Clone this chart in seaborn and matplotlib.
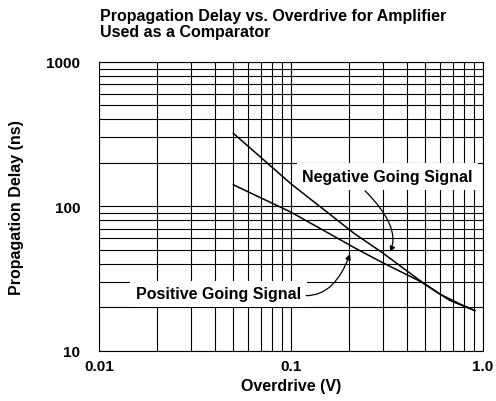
import matplotlib
matplotlib.use("Agg")
import matplotlib.pyplot as plt
import seaborn as sns
import pandas as pd
from matplotlib.ticker import FixedLocator, FixedFormatter, NullFormatter, LogLocator

# Propagation delay curves (overdrive in V, delay in ns)
neg_x = [0.05, 0.1, 0.215, 0.297, 0.47, 0.597, 0.759, 0.908]
neg_y = [321, 143, 64.3, 48.0, 30.5, 24.6, 21.0, 18.9]
pos_x = [0.05, 0.1, 0.215, 0.297, 0.47, 0.673, 0.908]
pos_y = [141, 91, 51.4, 40.9, 30.2, 22.2, 18.9]

series_names = ["Negative Going Signal", "Positive Going Signal"]

x_ticks = [0.01, 0.1, 1.0]
x_tick_labels = ["0.01", "0.1", "1.0"]
y_ticks = [10, 100, 1000]
y_tick_labels = ["10", "100", "1000"]

df = pd.concat([
    pd.DataFrame({"overdrive": neg_x, "delay": neg_y, "signal": series_names[0]}),
    pd.DataFrame({"overdrive": pos_x, "delay": pos_y, "signal": series_names[1]}),
], ignore_index=True)

sns.set_theme(style="white")
plt.rcParams["font.family"] = ["Liberation Sans", "DejaVu Sans"]
plt.rcParams["font.weight"] = "bold"

fig = plt.figure(figsize=(4.96, 4.02), dpi=100)
ax = fig.add_axes([0.1996, 0.1256, 0.7742, 0.7177])

sns.lineplot(data=df, x="overdrive", y="delay", hue="signal",
             palette=["black", "black"], estimator=None, sort=False,
             legend=False, linewidth=1.1, ax=ax, zorder=4)

ax.set_xscale("log")
ax.set_yscale("log")
ax.set_xlim(0.01, 1.0)
ax.set_ylim(10, 1000)

ax.xaxis.set_major_locator(FixedLocator(x_ticks))
ax.xaxis.set_major_formatter(FixedFormatter(x_tick_labels))
ax.yaxis.set_major_locator(FixedLocator(y_ticks))
ax.yaxis.set_major_formatter(FixedFormatter(y_tick_labels))
ax.xaxis.set_minor_locator(LogLocator(base=10, subs=range(2, 10)))
ax.yaxis.set_minor_locator(LogLocator(base=10, subs=range(2, 10)))
ax.xaxis.set_minor_formatter(NullFormatter())
ax.yaxis.set_minor_formatter(NullFormatter())

ax.set_axisbelow(True)
ax.grid(True, which="both", color="black", linewidth=0.8)
ax.tick_params(which="both", length=0)
ax.tick_params(axis="x", pad=6.0, labelsize=11, labelcolor="black")
ax.tick_params(axis="y", pad=13.5, labelsize=11, labelcolor="black")
for lab in ax.get_xticklabels() + ax.get_yticklabels():
    lab.set_fontweight("bold")

for sp in ax.spines.values():
    sp.set_color("black")
    sp.set_linewidth(0.8)

ax.set_xlabel("Overdrive (V)", fontsize=11.5, fontweight="bold", color="black")
ax.set_ylabel("Propagation Delay (ns)", fontsize=11.5, fontweight="bold", color="black")
ax.xaxis.set_label_coords(0.5, -0.096)
ax.yaxis.set_label_coords(-0.196, 0.5)

fig.text(0.2016, 1 - 9.0 / 402,
         "Propagation Delay vs. Overdrive for Amplifier\nUsed as a Comparator",
         ha="left", va="top", fontsize=11.5, fontweight="bold", color="black",
         linespacing=1.1)

# Curve labels on white boxes that break the grid
box = dict(facecolor="white", edgecolor="none", pad=4)
ax.text(0.318, 161, series_names[0], ha="center", va="center", fontsize=11.5,
        fontweight="bold", color="black", bbox=box, zorder=3)
ax.text(0.0419, 24.8, series_names[1], ha="center", va="center", fontsize=11.5,
        fontweight="bold", color="black", bbox=box, zorder=3)

arrow = dict(arrowstyle="-|>", color="black", lw=0.9, mutation_scale=8,
             shrinkA=0, shrinkB=0)
ax.annotate("", xy=(0.328, 48.2), xytext=(0.243, 128),
            arrowprops=dict(arrow, connectionstyle="angle3,angleA=-45,angleB=66"),
            zorder=5)
ax.annotate("", xy=(0.203, 46.7), xytext=(0.12, 24.0),
            arrowprops=dict(arrow, connectionstyle="angle3,angleA=0,angleB=70"),
            zorder=5)

fig.savefig("out.png", dpi=100)
